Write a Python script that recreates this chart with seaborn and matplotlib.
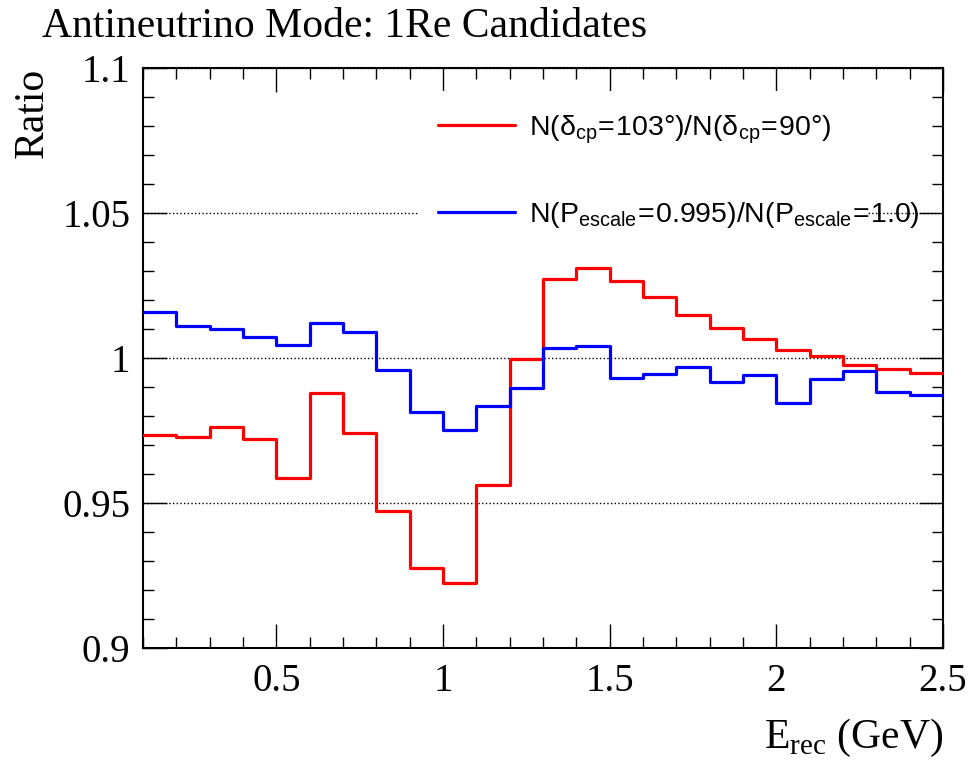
import numpy as np
import pandas as pd
import matplotlib
matplotlib.use("Agg")
import matplotlib.pyplot as plt
import seaborn as sns
from matplotlib.lines import Line2D
from matplotlib.patches import Rectangle
from matplotlib.ticker import MultipleLocator, FuncFormatter

# bin edges of E_rec (GeV)
bin_edges = [0.1, 0.2, 0.3, 0.4, 0.5, 0.6, 0.7, 0.8, 0.9, 1.0, 1.1, 1.2, 1.3,
             1.4, 1.5, 1.6, 1.7, 1.8, 1.9, 2.0, 2.1, 2.2, 2.3, 2.4, 2.5]

ratio_dcp = [0.9734, 0.9727, 0.9762, 0.9722, 0.9587, 0.9880, 0.9742, 0.9474,
             0.9277, 0.9225, 0.9562, 0.9998, 1.0271, 1.0309, 1.0265, 1.0209,
             1.0147, 1.0104, 1.0065, 1.0028, 1.0006, 0.9977, 0.9962, 0.9949]

ratio_escale = [1.0159, 1.0110, 1.0099, 1.0071, 1.0046, 1.0120, 1.0089, 0.9959,
                0.9815, 0.9752, 0.9834, 0.9897, 1.0036, 1.0043, 0.9930, 0.9945,
                0.9969, 0.9918, 0.9940, 0.9846, 0.9928, 0.9954, 0.9883, 0.9874]

label_dcp = r"$\mathregular{N(δ_{cp}\!=\!103°)/N(δ_{cp}\!=\!90°)}$"
label_escale = r"$\mathregular{N(P_{escale}\!=\!0.995)/N(P_{escale}\!=\!1.0)}$"

edges = np.array(bin_edges)
centers = (edges[:-1] + edges[1:]) / 2
df = pd.DataFrame({"E": centers, "dcp": ratio_dcp, "escale": ratio_escale})

sns.set_style("ticks")
plt.rcParams["font.family"] = ["Liberation Serif", "DejaVu Serif"]
plt.rcParams["axes.linewidth"] = 1.5
for k in ["text.color", "axes.labelcolor", "xtick.color", "ytick.color",
          "axes.edgecolor"]:
    plt.rcParams[k] = "black"

fig = plt.figure(figsize=(9.76, 7.63), dpi=100)
ax = fig.add_axes([0.1465, 0.1507, 0.8197, 0.7602])

sns.histplot(data=df, x="E", weights="dcp", bins=bin_edges, element="step",
             fill=False, color="#ff0000", linewidth=2.3, ax=ax, zorder=3)
sns.histplot(data=df, x="E", weights="escale", bins=bin_edges, element="step",
             fill=False, color="#0000ff", linewidth=2.3, ax=ax, zorder=3)

ax.set_xlim(0.1, 2.5)
ax.set_ylim(0.9, 1.1)

ax.xaxis.set_major_locator(MultipleLocator(0.5))
ax.xaxis.set_minor_locator(MultipleLocator(0.1))
ax.yaxis.set_major_locator(MultipleLocator(0.05))
ax.yaxis.set_minor_locator(MultipleLocator(0.01))
fmt = FuncFormatter(lambda v, p: "%g" % round(v, 3))
ax.xaxis.set_major_formatter(fmt)
ax.yaxis.set_major_formatter(fmt)

ax.tick_params(which="both", direction="in", top=True, right=True,
               width=1, labelsize=28, color="black")
ax.tick_params(which="major", length=17)
ax.tick_params(which="minor", length=8)
ax.tick_params(axis="x", pad=11)
ax.tick_params(axis="y", pad=9)

ax.yaxis.grid(True, linestyle=":", color="black", linewidth=1)

ax.set_xlabel(r"E$_\mathregular{rec}$ (GeV)", fontsize=30, loc="right",
              labelpad=12)
ax.set_ylabel("Ratio", fontsize=30, loc="top", labelpad=7.5)

# white legend pad hiding the grid line behind it
ax.add_patch(Rectangle((0.344, 0.70), 0.562, 0.26, transform=ax.transAxes,
                       facecolor="white", edgecolor="none", zorder=1))

handles = [Line2D([], [], color="#ff0000", linewidth=2.3),
           Line2D([], [], color="#0000ff", linewidth=2.3)]
leg = ax.legend(handles, [label_dcp, label_escale], loc="upper left",
                bbox_to_anchor=(0.330, 0.976), frameon=False,
                prop={"family": ["Liberation Sans", "DejaVu Sans"], "size": 20.5},
                handlelength=2.7, handletextpad=0.5, labelspacing=1.9,
                borderpad=0.6)

fig.text(0.043, 0.99, "Antineutrino Mode: 1Re Candidates", fontsize=30,
         va="top", ha="left")

fig.savefig("out.png", dpi=100)
